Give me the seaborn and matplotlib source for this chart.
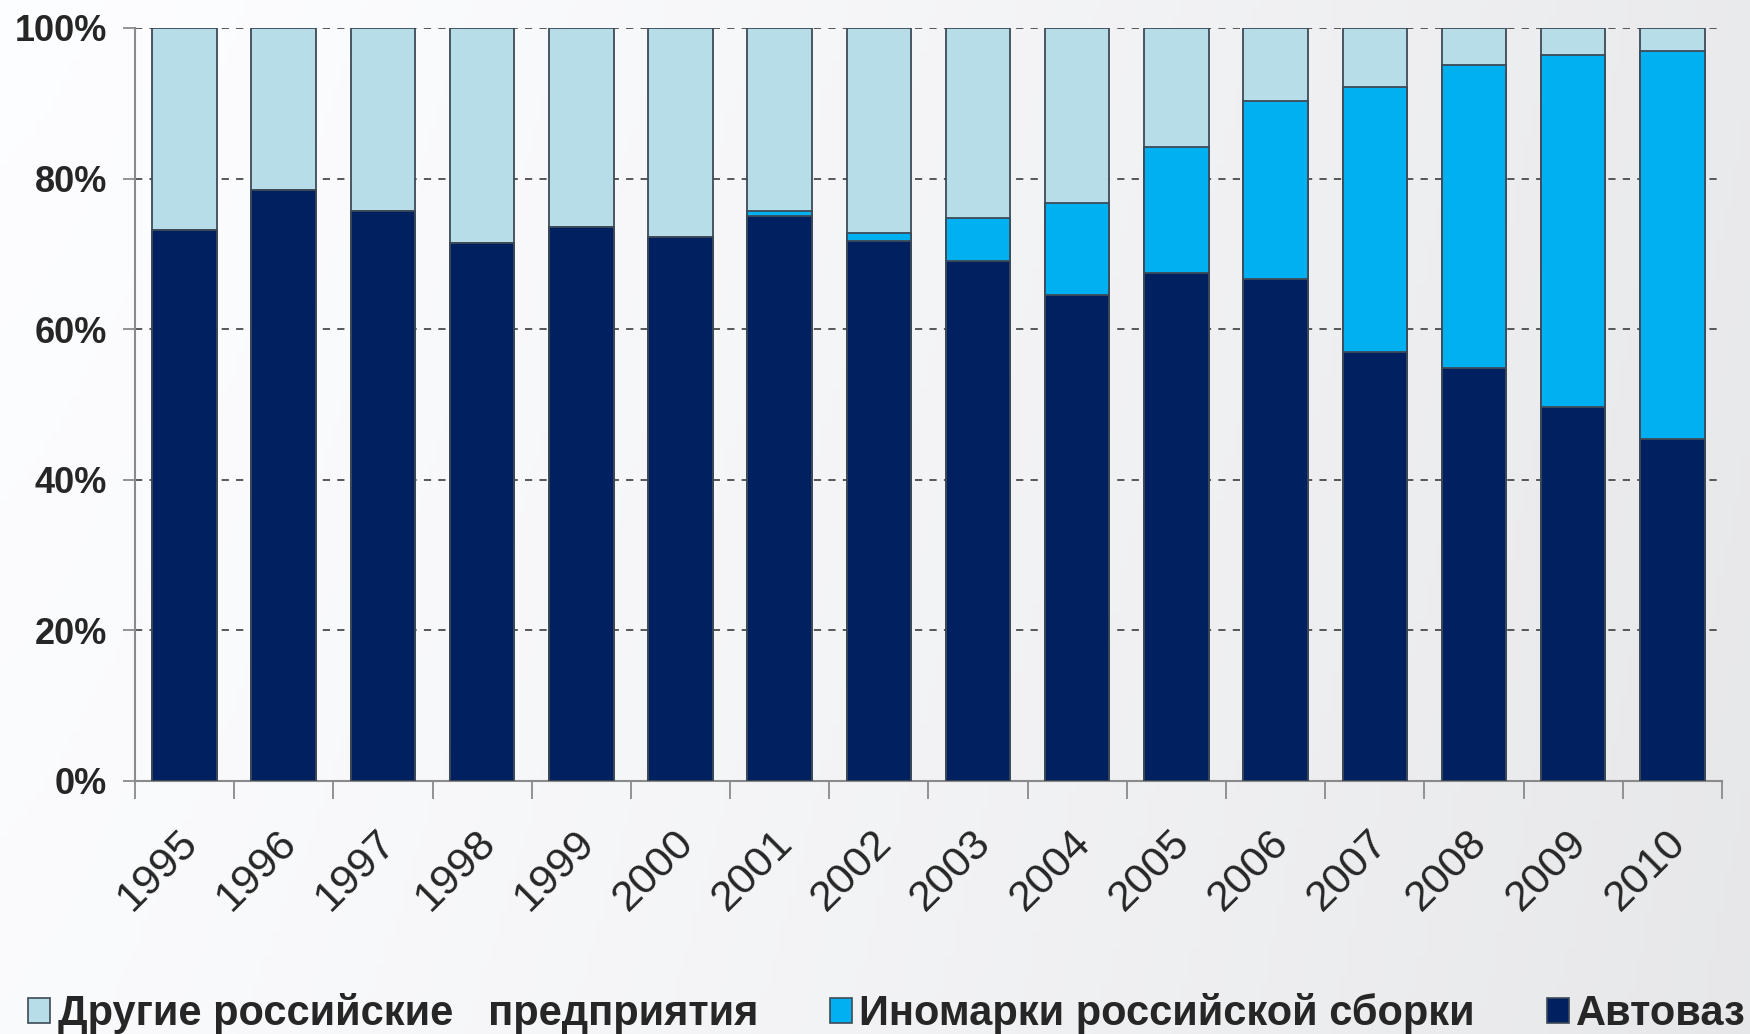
import numpy as np
import pandas as pd
import matplotlib
matplotlib.use("Agg")
import matplotlib.pyplot as plt
import matplotlib.patches as mpatches
from matplotlib.transforms import ScaledTranslation
import seaborn as sns

# data (shares of the market, %)
years = ["1995", "1996", "1997", "1998", "1999", "2000", "2001", "2002",
         "2003", "2004", "2005", "2006", "2007", "2008", "2009", "2010"]
avtovaz = [73.2, 78.5, 75.7, 71.4, 73.6, 72.3, 75.0, 71.7,
           69.1, 64.6, 67.4, 66.7, 57.0, 54.8, 49.7, 45.4]
inomarki = [0.0, 0.0, 0.0, 0.0, 0.0, 0.0, 0.7, 1.1,
            5.7, 12.1, 16.8, 23.6, 35.2, 40.3, 46.7, 51.5]
others = [100 - a - b for a, b in zip(avtovaz, inomarki)]

labels = ["Другие российские   предприятия", "Иномарки российской сборки", "Автоваз"]
c_oth = "#b7dde8"
c_ino = "#00b0f0"
c_ava = "#002060"
edge = "#3d4a57"

df = pd.DataFrame({"year": years, "avtovaz": avtovaz, "inomarki": inomarki, "others": others})
df["top2"] = df["avtovaz"] + df["inomarki"]
df["total"] = df["top2"] + df["others"]

sns.set_style("white")
plt.rcParams["font.family"] = ["Liberation Sans", "DejaVu Sans"]

fig = plt.figure(figsize=(17.5, 10.34), dpi=100)

# soft grey gradient background
bg = fig.add_axes([0, 0, 1, 1], zorder=-10)
gx = np.linspace(0, 1, 200)
gy = np.linspace(0, 1, 120)
GX, GY = np.meshgrid(gx, gy)
shade = 0.98 - 0.075 * GX ** 1.3 + 0.012 * GY
bg.imshow(np.dstack([shade, shade + 0.002, shade + 0.008]).clip(0, 1),
          aspect="auto", extent=[0, 1, 0, 1], origin="lower")
bg.axis("off")

ax = fig.add_axes([0.0771, 0.2447, 0.9069, 0.7283])
ax.set_facecolor("none")

kw = dict(order=years, width=0.65, edgecolor=edge, linewidth=1.3, ax=ax, zorder=3)
sns.barplot(data=df, x="year", y="total", color=c_oth, saturation=1, **kw)
sns.barplot(data=df, x="year", y="top2", color=c_ino, saturation=1, **kw)
sns.barplot(data=df, x="year", y="avtovaz", color=c_ava, saturation=1, **kw)

ax.set_xlim(-0.5, len(years) - 0.5)
ax.set_ylim(0, 100)
ax.set_xlabel("")
ax.set_ylabel("")

ax.set_yticks([0, 20, 40, 60, 80, 100])
ax.set_yticklabels(["0%", "20%", "40%", "60%", "80%", "100%"],
                   fontsize=26, fontweight="bold")
ax.yaxis.grid(True, linestyle=(0, (4, 4)), color="#4a4a4a", linewidth=1.3, zorder=0)
ax.set_axisbelow(True)
ax.tick_params(axis="y", length=9, width=1.3, color="#8a8a8a", pad=11, left=True)

ax.set_xticks(range(len(years)))
ax.set_xticklabels(years, fontsize=31, rotation=45, ha="right",
                   va="center", rotation_mode="anchor")
ax.tick_params(axis="x", which="major", length=0, pad=40)
ax.set_xticks(np.arange(-0.5, len(years), 1), minor=True)
ax.tick_params(axis="x", which="minor", length=13, width=1.3, color="#8a8a8a", bottom=True)
for lab in ax.get_xticklabels():
    lab.set_transform(lab.get_transform() + ScaledTranslation(0.07, 0, fig.dpi_scale_trans))

for s in ["top", "right"]:
    ax.spines[s].set_visible(False)
for s in ["left", "bottom"]:
    ax.spines[s].set_color("#8a8a8a")
    ax.spines[s].set_linewidth(1.5)

handles = [mpatches.Patch(facecolor=c, edgecolor=edge, linewidth=1.2)
           for c in [c_oth, c_ino, c_ava]]
fig.legend(handles, labels, loc="center left", bbox_to_anchor=(0.016, 0.0195),
           ncol=3, frameon=False, borderpad=0, borderaxespad=0,
           handlelength=0.53, handleheight=0.53, handletextpad=0.18,
           columnspacing=1.72,
           prop={"family": "Liberation Sans", "weight": "bold", "size": 30})

fig.savefig("out.png", dpi=100)
